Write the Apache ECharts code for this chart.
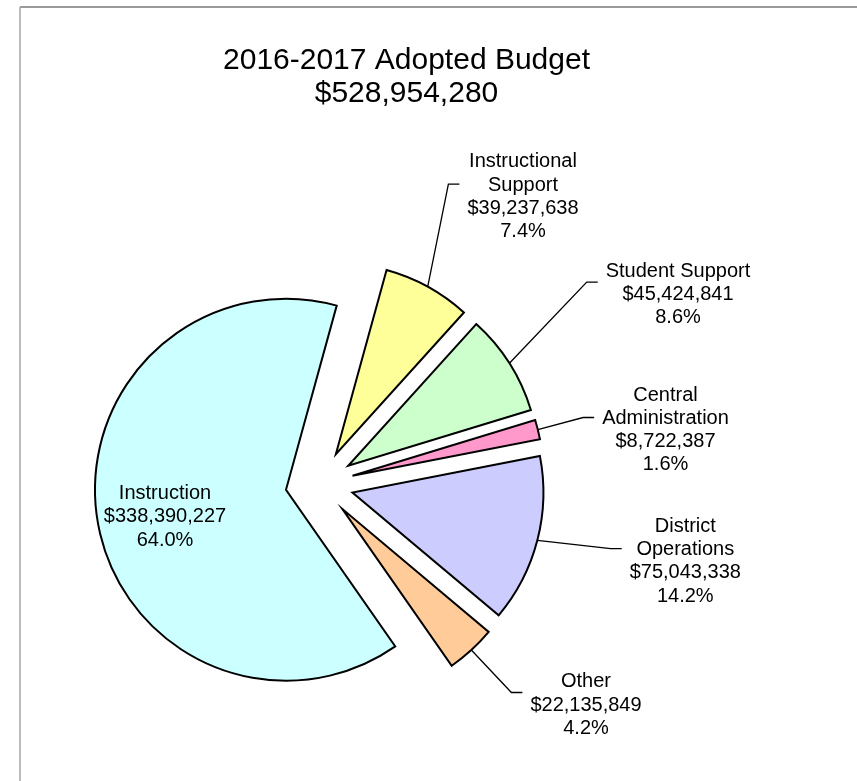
<!DOCTYPE html>
<html>
<head>
<meta charset="utf-8">
<title>2016-2017 Adopted Budget</title>
<script src="https://cdn.jsdelivr.net/npm/echarts@6/dist/echarts.min.js"></script>
<style>
  html, body { margin: 0; padding: 0; background: #ffffff; }
  #chart { width: 857px; height: 781px; }
</style>
</head>
<body>
<div id="chart"></div>
<script>
// Budget areas, listed in the order they run clockwise round the pie
const categories = ['Instructional\nSupport', 'Student Support', 'Central\nAdministration', 'District\nOperations', 'Other', 'Instruction'];
const amounts = [39237638, 45424841, 8722387, 75043338, 22135849, 338390227];
const titleLines = ['2016-2017 Adopted Budget', '$528,954,280'];

// Styling and layout
const sliceColors = ['#FFFF99', '#CCFFCC', '#FF99CC', '#CCCCFF', '#FFCC99', '#CCFFFF'];
const FONT = 'Arial, "Liberation Sans", Helvetica, sans-serif';
const PIE_CENTER = [319.5, 484];
const PIE_RADIUS = 191;
const START_ANGLE = 74.6;
const EXPLODE = 34;
// centre of each label block, same order as the categories
const labelSpots = [[523, 196.7], [678, 294.6], [665.5, 430], [685.3, 561.2], [586, 705], [165, 516.7]];
const INSIDE_LABEL = 'Instruction';

const total = amounts.reduce((a, b) => a + b, 0);
const money = v => '$' + String(v).replace(/\B(?=(\d{3})+(?!\d))/g, ',');

// Exploded slices: every slice is pulled out of the centre
const sliceData = categories.map((name, i) => ({
  name: name,
  value: amounts[i],
  selected: true,
  itemStyle: { color: sliceColors[i] }
}));

// Same values again on an unexploded, unpainted pie that carries the labels and leader lines
const labelData = categories.map((name, i) => {
  const item = { name: name, value: amounts[i] };
  if (name === INSIDE_LABEL) {
    item.label = { position: 'inside' };
    item.labelLine = { show: false };
  }
  return item;
});

const chart = echarts.init(document.getElementById('chart'), null, { renderer: 'canvas' });

chart.setOption({
  backgroundColor: '#ffffff',
  animation: false,
  title: {
    text: titleLines.join('\n'),
    left: 406.5,
    top: 43.5,
    padding: 0,
    textAlign: 'center',
    textStyle: {
      fontFamily: FONT,
      fontSize: 30,
      fontWeight: 'normal',
      color: '#000000',
      lineHeight: 33.5
    }
  },
  graphic: [
    { type: 'line', silent: true, shape: { x1: 20, y1: 7, x2: 857, y2: 7 }, style: { stroke: '#777777', lineWidth: 1.3 } },
    { type: 'line', silent: true, shape: { x1: 20, y1: 7, x2: 20, y2: 781 }, style: { stroke: '#aaaaaa', lineWidth: 1.6 } }
  ],
  series: [{
    type: 'pie',
    center: PIE_CENTER,
    radius: PIE_RADIUS,
    startAngle: START_ANGLE,
    clockwise: true,
    silent: true,
    selectedMode: 'multiple',
    selectedOffset: EXPLODE,
    itemStyle: { borderColor: '#000000', borderWidth: 2, borderJoin: 'miter' },
    label: { show: false },
    labelLine: { show: false },
    emphasis: { disabled: true },
    select: { itemStyle: { borderColor: '#000000', borderWidth: 2 } },
    data: sliceData
  }, {
    type: 'pie',
    center: PIE_CENTER,
    radius: PIE_RADIUS,
    startAngle: START_ANGLE,
    clockwise: true,
    silent: true,
    avoidLabelOverlap: false,
    itemStyle: { color: 'rgba(0,0,0,0)', borderWidth: 0 },
    label: {
      show: true,
      position: 'outside',
      color: '#000000',
      fontFamily: FONT,
      fontSize: 20,
      lineHeight: 23.3,
      formatter: p => p.name + '\n' + money(p.value) + '\n' + (p.value / total * 100).toFixed(1) + '%'
    },
    labelLine: {
      show: true,
      length: 20,
      length2: 10,
      lineStyle: { color: '#000000', width: 1.3 }
    },
    emphasis: { disabled: true },
    labelLayout: function (p) {
      const spot = labelSpots[p.dataIndex];
      const out = { x: spot[0], y: spot[1], align: 'center', verticalAlign: 'middle' };
      const pts = p.labelLinePoints;
      if (categories[p.dataIndex] !== INSIDE_LABEL && pts && pts.length) {
        // start the leader on the rim of the pulled-out slice
        const rim = pts[0];
        const k = (PIE_RADIUS + EXPLODE) / PIE_RADIUS;
        const start = [PIE_CENTER[0] + (rim[0] - PIE_CENTER[0]) * k, PIE_CENTER[1] + (rim[1] - PIE_CENTER[1]) * k];
        const endX = spot[0] - p.labelRect.width / 2 - 8;
        const endY = spot[1] - 12.5;
        out.labelLinePoints = [start, [endX - 11, endY], [endX, endY]];
      }
      return out;
    },
    data: labelData
  }]
});
</script>
</body>
</html>
